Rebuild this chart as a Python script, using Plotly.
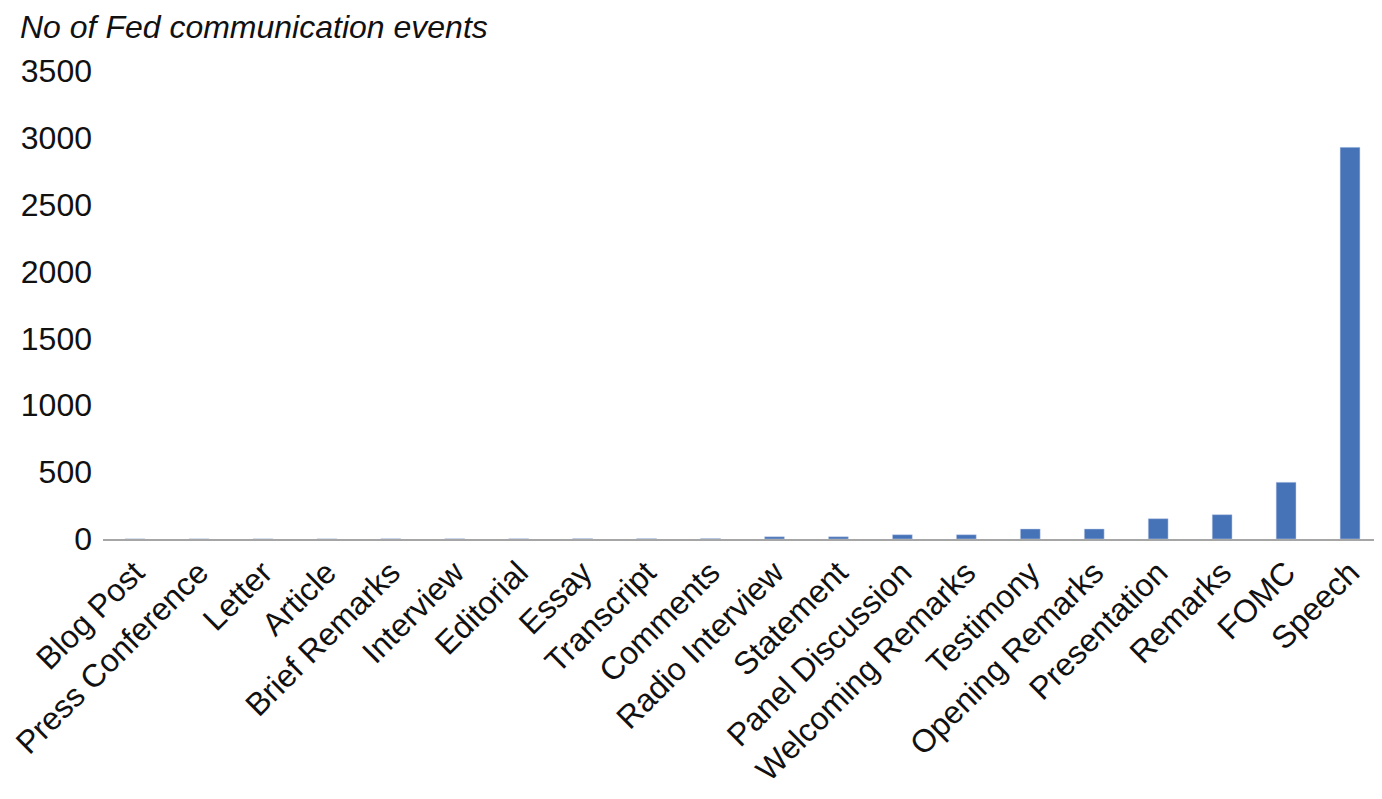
import plotly.graph_objects as go

categories = ["Blog Post", "Press Conference", "Letter", "Article", "Brief Remarks",
              "Interview", "Editorial", "Essay", "Transcript", "Comments",
              "Radio Interview", "Statement", "Panel Discussion", "Welcoming Remarks",
              "Testimony", "Opening Remarks", "Presentation", "Remarks", "FOMC", "Speech"]
values = [1, 1, 1, 1, 2, 2, 2, 3, 3, 4, 17, 17, 32, 32, 75, 75, 152, 182, 424, 2929]
y_ticks = [0, 500, 1000, 1500, 2000, 2500, 3000, 3500]

fig = go.Figure(go.Bar(x=categories, y=values, marker=dict(color="#4672B8",
                       line=dict(color="#C7D3EA", width=0.5))))

L, R, T, B = 95, 8, 63, 268
fig.update_layout(
    width=1382, height=799,
    margin=dict(l=L, r=R, t=T, b=B),
    paper_bgcolor="white", plot_bgcolor="white",
    bargap=0.69,
    showlegend=False,
    font=dict(family="Liberation Sans, Arial, sans-serif", size=32, color="#111111"),
    annotations=[dict(text="<i>No of Fed communication events</i>", xref="paper", yref="paper",
                      x=(10 - L) / (1382 - L - R), y=1.0, xanchor="left", yanchor="bottom", yshift=24,
                      showarrow=False, font=dict(size=32, color="#111111"))],
)
fig.update_xaxes(tickangle=-45, showline=True, linecolor="#A6A6A6", linewidth=2,
                 ticks="", showgrid=False, tickfont=dict(size=32), automargin=False)
fig.update_yaxes(range=[0, 3500], tickvals=y_ticks, showgrid=False, zeroline=False,
                 showline=False, ticks="", ticklabelstandoff=10, tickfont=dict(size=32),
                 automargin=False)

fig.write_html("out.html")
